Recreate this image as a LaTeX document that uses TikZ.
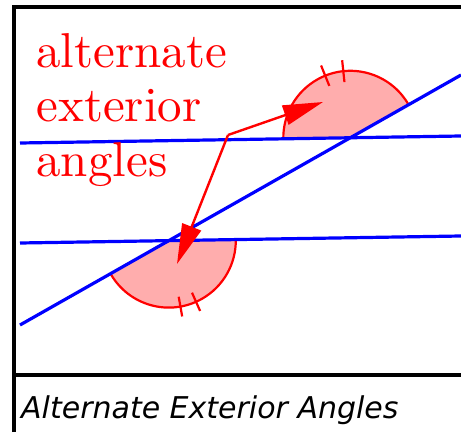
\documentclass[tikz,border=0pt]{standalone}
\usepackage{fontspec}
\newfontfamily\capfont{DejaVu Sans}
\usetikzlibrary{arrows.meta}

\begin{document}
\begin{tikzpicture}[x=1pt,y=1pt]
\tikzstyle{every node}=[inner sep=0pt];
\tikzstyle{word}=[text=red,font=\fontsize{10}{12}\selectfont,scale=4.9,transform shape,anchor=base west];
\tikzstyle{parline}=[blue,line width=3.2pt];
\tikzstyle{angarc}=[red,line width=2.2pt];
\tikzstyle{angfill}=[fill=red!32];
\tikzstyle{tickmark}=[red,line width=2.2pt];
\tikzstyle{redarrow}=[red,line width=2.4pt,-{Triangle[length=40pt,width=20pt]}];
\useasboundingbox (0,0) rectangle (461,432);

% frame and caption box
\draw[line width=4.5pt] (14,0) -- (14,425) -- (461,425);
\draw[line width=4.5pt] (14,57) -- (461,57);

% end points of the lines
\coordinate (A1) at (20,289);
\coordinate (A2) at (461,296);
\coordinate (B1) at (20,189);
\coordinate (B2) at (461,196);
\coordinate (C1) at (20,107);
\coordinate (C2) at (461,357);
\coordinate (P) at (350.3,294.2);
\coordinate (Q) at (168.8,191.4);

% the two angles
\fill[angfill] (P) -- ++(29.55:67) arc[start angle=29.55,end angle=180.91,radius=67] -- cycle;
\draw[angarc] (P) ++(29.55:67) arc[start angle=29.55,end angle=180.91,radius=67];
\fill[angfill] (Q) -- ++(209.55:67) arc[start angle=209.55,end angle=360.91,radius=67] -- cycle;
\draw[angarc] (Q) ++(209.55:67) arc[start angle=209.55,end angle=360.91,radius=67];

\draw[tickmark] (P) ++(96:56) -- ++(96:22);
\draw[tickmark] (P) ++(112:56) -- ++(112:22);
\draw[tickmark] (Q) ++(280:57) -- ++(280:20);
\draw[tickmark] (Q) ++(294:57) -- ++(294:20);

% parallel lines and transversal
\draw[parline] (A1) -- (A2);
\draw[parline] (B1) -- (B2);
\draw[parline] (C1) -- (C2);

% label and arrows
\node[word] (w1) at (35.5,364) {alternate};
\node[word] (w2) at (35.5,310) {exterior};
\node[word] (w3) at (35.5,255) {angles};

\coordinate (K) at (228,297);
\coordinate (T1) at (323,330);
\coordinate (T2) at (177,168);
\draw[redarrow] (K) -- (T1);
\draw[redarrow] (K) -- (T2);

\node[anchor=base west,font=\capfont\itshape\fontsize{30}{36}\selectfont] (cap) at (21,14) {Alternate Exterior Angles};
\end{tikzpicture}
\end{document}
